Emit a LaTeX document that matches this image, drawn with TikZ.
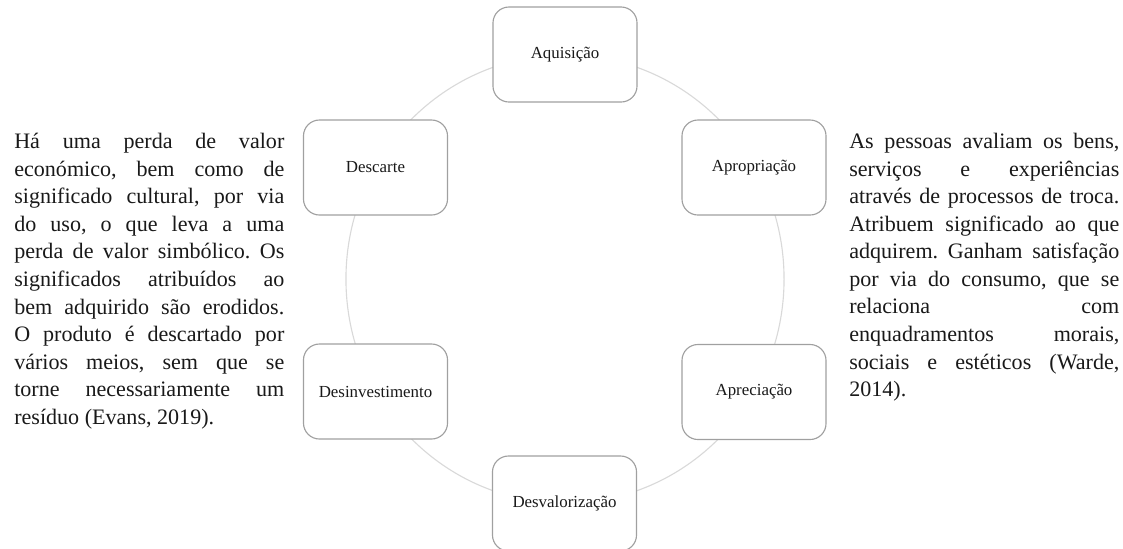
\documentclass[tikz,border=0pt]{standalone}
\usepackage{fontspec}
\setmainfont{Liberation Serif}
\usetikzlibrary{positioning}
\definecolor{ringgray}{RGB}{217, 217, 217}
\definecolor{boxgray}{RGB}{160, 160, 160}
\definecolor{inkblack}{RGB}{25, 25, 25}
\tolerance=10000
\emergencystretch=2em
\frenchspacing

\begin{document}
\begin{tikzpicture}[
  x=0.025cm, y=-0.025cm,
  stage/.style={draw=boxgray, fill=white, rounded corners=0.4cm, line width=0.8pt,
    minimum width=3.6cm, minimum height=2.375cm, font=\fontsize{12}{14}\selectfont, text=inkblack},
  note/.style={text width=6.75cm, align=justify, inner sep=0pt, anchor=north west,
    font=\fontsize{15.7}{19.6}\selectfont, text=inkblack}
]
  \useasboundingbox (0,0) rectangle (1123,548);
  \coordinate (O) at (565,279);
  \draw[ringgray, line width=0.8pt] (O) ellipse [x radius=5.475cm, y radius=5.6cm];

  \node[stage] (Aq)  at (565,54.5)    {Aquisição};
  \node[stage] (Ap)  at (754,167.5)   {Apropriação};
  \node[stage] (Apr) at (754,392)     {Apreciação};
  \node[stage] (Dv)  at (564.5,503.5) {Desvalorização};
  \node[stage] (Di)  at (375.5,391.5) {Desinvestimento};
  \node[stage] (Dc)  at (375.5,167.5) {Descarte};

  \node[note] (L) at (14,133) {Há uma perda de valor\linebreak
    económico, bem como de\linebreak
    significado cultural, por via\linebreak
    do uso, o que leva a uma\linebreak
    perda de valor simbólico. Os\linebreak
    significados atribuídos ao\linebreak
    bem adquirido são erodidos.\linebreak
    O produto é descartado por\linebreak
    vários meios, sem que se\linebreak
    torne necessariamente um\linebreak
    resíduo (Evans, 2019).};
  \node[note] (R) at (849,133) {As pessoas avaliam os bens,\linebreak
    serviços e experiências\linebreak
    através de processos de troca.\linebreak
    Atribuem significado ao que\linebreak
    adquirem. Ganham satisfação\linebreak
    por via do consumo, que se\linebreak
    relaciona com\linebreak
    enquadramentos morais,\linebreak
    sociais e estéticos (Warde,\linebreak
    2014).};
\end{tikzpicture}
\end{document}
